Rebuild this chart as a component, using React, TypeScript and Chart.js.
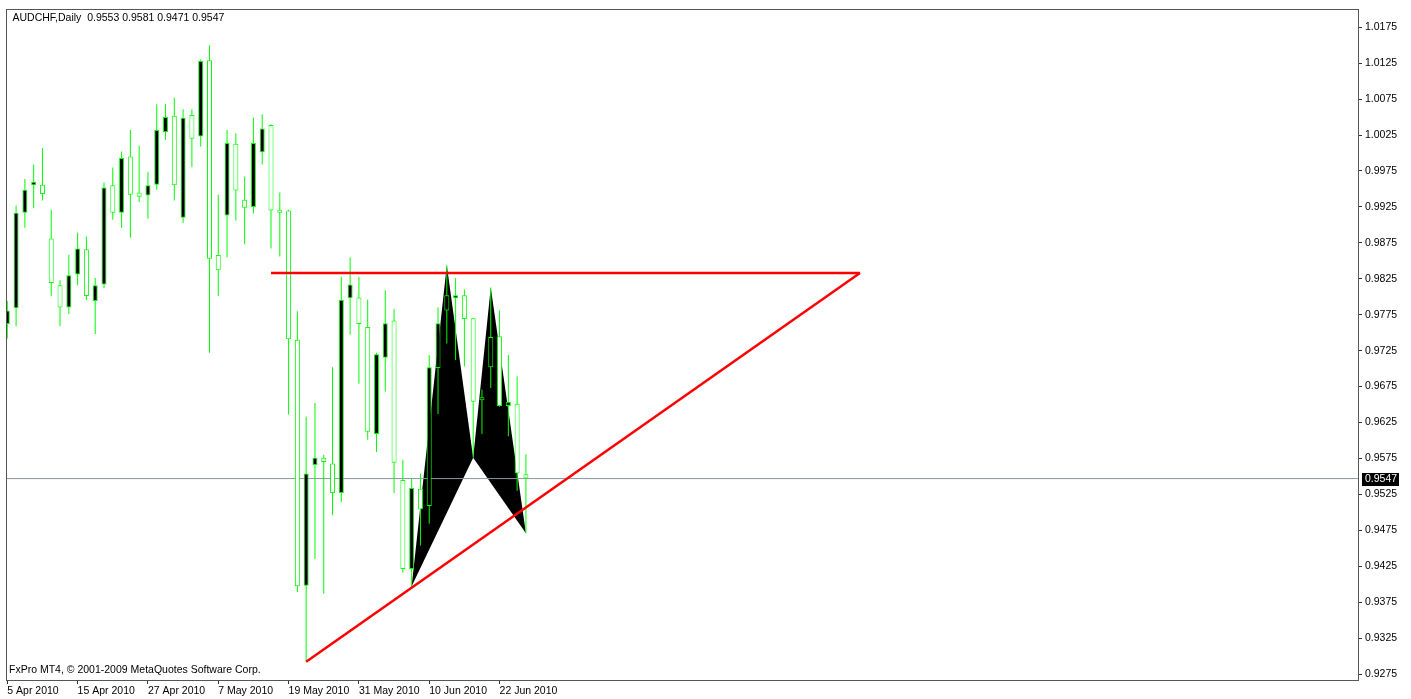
import React, { useEffect, useRef } from 'react';
import { Chart, registerables } from 'chart.js';

Chart.register(...registerables);

// ---- Data (AUDCHF Daily) ----
const opens = [
  0.9762, 0.9784, 0.9917, 0.9955, 0.9956, 0.9881, 0.9816, 0.9785, 0.9831, 0.9866,
  0.9794, 0.9817, 0.9955, 0.9917, 0.9995, 0.9945, 0.9941, 0.9956, 1.0029, 1.0052,
  0.9910, 1.0053, 1.0023, 1.0129, 0.9858, 0.9913, 1.0013, 0.9935, 0.9925, 1.0001,
  1.0039, 0.9921, 0.9920, 0.9740, 0.9398, 0.9566, 0.9576, 0.9568, 0.9527, 0.9798,
  0.9799, 0.9758, 0.9609, 0.9715, 0.9767, 0.9545, 0.9421, 0.9533, 0.9509, 0.9701,
  0.9781, 0.9798, 0.9802, 0.9770, 0.9656, 0.9702, 0.9745, 0.9648, 0.9651, 0.9553,
];
const highs = [
  0.9794, 0.9927, 0.9964, 0.9984, 1.0007, 0.9921, 0.9823, 0.9858, 0.9889, 0.9884,
  0.9826, 0.9959, 0.9980, 1.0002, 1.0032, 1.0010, 0.9974, 1.0068, 1.0068, 1.0077,
  1.0061, 1.0061, 1.0130, 1.0150, 0.9942, 1.0032, 1.0027, 0.9967, 1.0049, 1.0054,
  1.0040, 0.9945, 0.9921, 0.9780, 0.9633, 0.9652, 0.9580, 0.9702, 0.9828, 0.9855,
  0.9828, 0.9796, 0.9722, 0.9809, 0.9783, 0.9573, 0.9547, 0.9554, 0.9719, 0.9785,
  0.9844, 0.9826, 0.9810, 0.9770, 0.9671, 0.9813, 0.9781, 0.9719, 0.9689, 0.9581,
];
const lows = [
  0.9742, 0.9759, 0.9896, 0.9923, 0.9934, 0.9801, 0.9759, 0.9776, 0.9816, 0.9795,
  0.9748, 0.9812, 0.9907, 0.9896, 0.9882, 0.9932, 0.9909, 0.9949, 1.0018, 0.9934,
  0.9903, 0.9981, 1.0009, 0.9722, 0.9801, 0.9855, 0.9906, 0.9873, 0.9916, 0.9984,
  0.9867, 0.9856, 0.9636, 0.9389, 0.9292, 0.9435, 0.9387, 0.9496, 0.9514, 0.9747,
  0.9679, 0.9601, 0.9584, 0.9668, 0.9527, 0.9416, 0.9396, 0.9454, 0.9484, 0.9637,
  0.9735, 0.9712, 0.9703, 0.9576, 0.9609, 0.9673, 0.9647, 0.9606, 0.9530, 0.9471,
];
const closes = [
  0.9781, 0.9917, 0.9949, 0.9960, 0.9943, 0.9819, 0.9785, 0.9830, 0.9867, 0.9801,
  0.9816, 0.9952, 0.9917, 0.9993, 0.9942, 0.9939, 0.9955, 1.0032, 1.0050, 0.9955,
  1.0049, 1.0020, 1.0128, 0.9853, 0.9837, 1.0014, 0.9948, 0.9924, 1.0014, 1.0034,
  0.9920, 0.9917, 0.9741, 0.9397, 0.9554, 0.9576, 0.9570, 0.9527, 0.9796, 0.9817,
  0.9762, 0.9612, 0.9720, 0.9763, 0.9569, 0.9421, 0.9534, 0.9504, 0.9702, 0.9763,
  0.9802, 0.9802, 0.9769, 0.9654, 0.9660, 0.9744, 0.9648, 0.9654, 0.9554, 0.9547,
];

const dateLabels = [
  '5 Apr 2010', '15 Apr 2010', '27 Apr 2010', '7 May 2010',
  '19 May 2010', '31 May 2010', '10 Jun 2010', '22 Jun 2010',
];
// bar index where each date label sits
const dateTickBars = [0, 8, 16, 24, 32, 40, 48, 56];

const priceTicks = [
  0.9275, 0.9325, 0.9375, 0.9425, 0.9475, 0.9525, 0.9575, 0.9625, 0.9675, 0.9725,
  0.9775, 0.9825, 0.9875, 0.9925, 0.9975, 1.0025, 1.0075, 1.0125, 1.0175,
];

const symbolTitle = 'AUDCHF,Daily';
const footerText = 'FxPro MT4, \u00A9 2001-2009 MetaQuotes Software Corp.';
const bidPrice = 0.9547;

// drawn objects (bar index, price)
const resistanceLine = [{ x: 30, y: 0.9833 }, { x: 97, y: 0.9833 }];
const supportLine = [{ x: 34, y: 0.9292 }, { x: 97, y: 0.9833 }];
const patternXAB = [{ x: 46, y: 0.9397 }, { x: 50, y: 0.9844 }, { x: 53, y: 0.9576 }];
const patternBCD = [{ x: 53, y: 0.9576 }, { x: 55, y: 0.9813 }, { x: 59, y: 0.9471 }];

const X_MIN = -0.148;
const X_MAX = 153.66;
const Y_MIN = 0.92667;
const Y_MAX = 1.02;

const FONT = "'Liberation Sans', Arial, sans-serif";
const GREEN = '#00ff00';

const patternPlugin = {
  id: 'patternPlugin',
  beforeDatasetsDraw(chart: any) {
    const { ctx, chartArea, scales } = chart;
    const xs = scales.x;
    const ys = scales.y;
    ctx.save();
    ctx.beginPath();
    ctx.rect(chartArea.left, chartArea.top, chartArea.right - chartArea.left, chartArea.bottom - chartArea.top);
    ctx.clip();
    ctx.fillStyle = '#000000';
    [patternXAB, patternBCD].forEach((tri) => {
      ctx.beginPath();
      tri.forEach((p, i) => {
        const px = xs.getPixelForValue(p.x);
        const py = ys.getPixelForValue(p.y);
        if (i === 0) ctx.moveTo(px, py);
        else ctx.lineTo(px, py);
      });
      ctx.closePath();
      ctx.fill();
    });
    ctx.restore();
  },
};

const decorPlugin = {
  id: 'decorPlugin',
  afterDraw(chart: any) {
    const { ctx, chartArea, scales } = chart;
    const ys = scales.y;
    ctx.save();
    // frame
    ctx.strokeStyle = '#555555';
    ctx.lineWidth = 1;
    ctx.strokeRect(
      Math.round(chartArea.left) + 0.5,
      Math.round(chartArea.top) + 0.5,
      Math.round(chartArea.right - chartArea.left),
      Math.round(chartArea.bottom - chartArea.top)
    );
    // header
    const n = opens.length - 1;
    const header = `${symbolTitle}  ${opens[n].toFixed(4)} ${highs[n].toFixed(4)} ${lows[n].toFixed(4)} ${closes[n].toFixed(4)}`;
    ctx.fillStyle = '#000000';
    ctx.font = `10.5px ${FONT}`;
    ctx.textBaseline = 'middle';
    ctx.textAlign = 'left';
    ctx.fillText(header, chartArea.left + 6.5, chartArea.top + 9);
    ctx.fillText(footerText, chartArea.left + 3, chartArea.bottom - 9.5);
    // bid price box
    const py = ys.getPixelForValue(bidPrice);
    ctx.fillStyle = '#000000';
    ctx.fillRect(chartArea.right + 4, Math.round(py) - 6, 37, 13);
    ctx.fillStyle = '#ffffff';
    ctx.fillText(bidPrice.toFixed(4), chartArea.right + 7, Math.round(py) + 0.5);
    ctx.restore();
  },
};

export default function App() {
  const canvasRef = useRef<HTMLCanvasElement | null>(null);

  useEffect(() => {
    if (!canvasRef.current) return;
    Chart.defaults.font.family = FONT;
    const bodyColors = opens.map((o, i) => (closes[i] > o ? '#000000' : '#ffffff'));
    const chart = new Chart(canvasRef.current, {
      type: 'bar',
      data: {
        datasets: [
          {
            type: 'line',
            label: 'redH',
            data: resistanceLine,
            borderColor: '#ff0000',
            borderWidth: 2.5,
            pointRadius: 0,
            fill: false,
            order: 0,
          } as any,
          {
            type: 'line',
            label: 'redD',
            data: supportLine,
            borderColor: '#ff0000',
            borderWidth: 2.5,
            pointRadius: 0,
            fill: false,
            order: 0,
          } as any,
          {
            type: 'bar',
            label: 'body',
            data: opens.map((o, i) => ({ x: i, y: [o, closes[i]] })),
            backgroundColor: bodyColors,
            borderColor: GREEN,
            borderWidth: 1,
            borderSkipped: false,
            barThickness: 5,
            grouped: false,
            inflateAmount: 0,
            order: 1,
          } as any,
          {
            type: 'bar',
            label: 'wick',
            data: lows.map((l, i) => ({ x: i, y: [l, highs[i]] })),
            backgroundColor: GREEN,
            borderWidth: 0,
            barThickness: 1,
            grouped: false,
            inflateAmount: 0,
            order: 2,
          } as any,
          {
            type: 'line',
            label: 'bid',
            data: [{ x: X_MIN, y: bidPrice }, { x: X_MAX, y: bidPrice }],
            borderColor: '#8a96a3',
            borderWidth: 1,
            pointRadius: 0,
            fill: false,
            order: 3,
          } as any,
        ],
      },
      options: {
        responsive: false,
        animation: false,
        devicePixelRatio: 1,
        layout: { padding: { left: 6, top: 7, right: 0, bottom: 0 } },
        plugins: {
          legend: { display: false },
          tooltip: { enabled: false },
          title: { display: false },
        },
        scales: {
          x: {
            type: 'linear',
            position: 'bottom',
            min: X_MIN,
            max: X_MAX,
            offset: false,
            grid: { drawOnChartArea: false, drawTicks: true, tickLength: 4, color: '#333333', offset: false },
            border: { display: false },
            ticks: {
              autoSkip: false,
              maxRotation: 0,
              minRotation: 0,
              align: 'start',
              padding: 1,
              color: '#000000',
              font: { size: 10.5, family: FONT },
              callback: (_v: any, i: number) => dateLabels[i] ?? '',
            },
            afterBuildTicks: (s: any) => {
              s.ticks = dateTickBars.map((v) => ({ value: v }));
            },
            afterFit: (s: any) => {
              s.height = 19;
            },
          },
          y: {
            type: 'linear',
            position: 'right',
            min: Y_MIN,
            max: Y_MAX,
            grid: { drawOnChartArea: false, drawTicks: true, tickLength: 4, color: '#333333' },
            border: { display: false },
            ticks: {
              autoSkip: false,
              padding: 3,
              color: '#000000',
              font: { size: 10.5, family: FONT },
              callback: (v: any) => Number(v).toFixed(4),
            },
            afterBuildTicks: (s: any) => {
              s.ticks = priceTicks.map((v) => ({ value: v }));
            },
            afterFit: (s: any) => {
              s.width = 53;
            },
          },
        },
      } as any,
      plugins: [patternPlugin, decorPlugin],
    });
    return () => chart.destroy();
  }, []);

  return (
    <div style={{ position: 'fixed', left: 0, top: 0, width: 1411, height: 699, background: '#ffffff' }}>
      <canvas ref={canvasRef} width={1411} height={699} style={{ width: 1411, height: 699, display: 'block' }} />
    </div>
  );
}
